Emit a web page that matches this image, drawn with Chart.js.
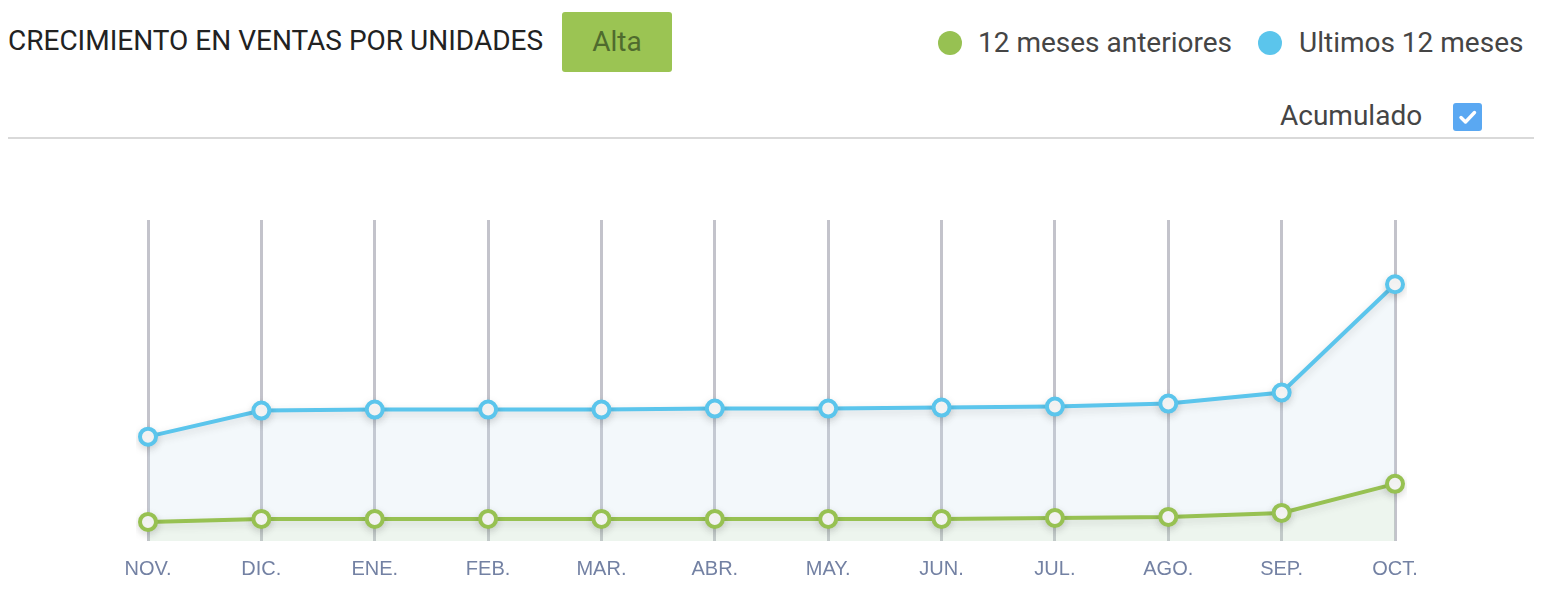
<!DOCTYPE html>
<html>
<head>
<meta charset="utf-8">
<script src="https://cdn.jsdelivr.net/npm/chart.js@4/dist/chart.umd.min.js"></script>
<style>
  html, body { margin: 0; padding: 0; background: #fff; width: 1546px; height: 594px; overflow: hidden; }
  body { position: relative; font-family: Roboto, "Noto Sans", sans-serif; }
  .title { position: absolute; left: 8px; top: 27px; font-size: 28px; line-height: 28px; color: #222; }
  .badge { position: absolute; left: 562px; top: 12px; width: 110px; height: 60px; background: #9bc453; border-radius: 3px;
           color: #4f6b2e; font-size: 28px; line-height: 60px; text-align: center; }
  .leg { position: absolute; top: 29px; font-size: 28px; line-height: 28px; color: #454545; white-space: nowrap; }
  .dot { position: absolute; top: 31px; width: 24px; height: 24px; border-radius: 50%; }
  .acum { position: absolute; top: 102px; left: 1280px; font-size: 28px; line-height: 28px; color: #454545; }
  .check { position: absolute; left: 1453px; top: 103px; width: 29px; height: 28px; background: #5aa8f2; border-radius: 3px; }
  .rule { position: absolute; left: 8px; top: 137px; width: 1526px; height: 2px; background: #d9d9d9; }
  .chartbox { position: absolute; left: 0; top: 150px; width: 1546px; height: 461px; }
</style>
</head>
<body>
<div class="title">CRECIMIENTO EN VENTAS POR UNIDADES</div>
<div class="badge">Alta</div>
<span class="dot" style="left:938px; background:#97c152"></span>
<span class="leg" style="left:978px">12 meses anteriores</span>
<span class="dot" style="left:1258px; background:#5bc5ec"></span>
<span class="leg" style="left:1299px">Ultimos 12 meses</span>
<div class="acum">Acumulado</div>
<div class="check">
  <svg width="29" height="28" viewBox="0 0 29 28"><path d="M8 14.5 L12.5 19 L21.5 9.5" fill="none" stroke="#fff" stroke-width="3.4" stroke-linecap="round" stroke-linejoin="round"/></svg>
</div>
<div class="rule"></div>
<div class="chartbox"><canvas id="ventasChart"></canvas></div>

<script>
"use strict";

// datos
const meses = ["NOV.", "DIC.", "ENE.", "FEB.", "MAR.", "ABR.", "MAY.", "JUN.", "JUL.", "AGO.", "SEP.", "OCT."];
const anteriores = [19, 22, 22, 22, 22, 22, 22, 22, 23, 24, 28, 57];
const ultimos = [104, 130, 131, 131, 131, 132, 132, 133, 134, 137, 148, 256];

// sombra suave solo para lineas y puntos (los rellenos se pintan antes)
const sombra = {
  id: "sombra",
  beforeDatasetDraw(chart) {
    const ctx = chart.ctx;
    ctx.save();
    ctx.shadowColor = "rgba(0, 0, 0, 0.14)";
    ctx.shadowBlur = 8;
    ctx.shadowOffsetY = 3;
  },
  afterDatasetDraw(chart) {
    chart.ctx.restore();
  },
};

const data = {
  labels: meses,
  datasets: [
    {
      label: "12 meses anteriores",
      data: anteriores,
      borderColor: "#97c152",
      backgroundColor: "rgba(170, 200, 90, 0.08)",
      pointBackgroundColor: "#fff",
      pointBorderColor: "#97c152",
      fill: "origin",
    },
    {
      label: "Ultimos 12 meses",
      data: ultimos,
      borderColor: "#5bc5ec",
      backgroundColor: "rgba(200, 222, 238, 0.22)",
      pointBackgroundColor: "#fff",
      pointBorderColor: "#5bc5ec",
      fill: "origin",
    },
  ],
};

const config = {
  type: "line",
  data: data,
  plugins: [sombra],
  options: {
    responsive: true,
    maintainAspectRatio: false,
    animation: false,
    borderWidth: 4,
    tension: 0,
    pointRadius: 8,
    pointBorderWidth: 4,
    layout: {
      padding: { left: 148, right: 151, top: 70, bottom: 14 },
    },
    plugins: {
      legend: { display: false },
      tooltip: { enabled: false },
      filler: { drawTime: "beforeDatasetsDraw" },
    },
    scales: {
      x: {
        offset: false,
        border: { display: false },
        grid: { color: "#c3c3cb", lineWidth: 3, drawTicks: false },
        ticks: {
          color: "#7381a3",
          padding: 16,
          maxRotation: 0,
          font: { family: "Liberation Sans", size: 20 },
        },
      },
      y: {
        display: false,
        min: 0,
        max: 320,
      },
    },
  },
};

const ventasChart = new Chart(document.getElementById("ventasChart"), config);
</script>
</body>
</html>
